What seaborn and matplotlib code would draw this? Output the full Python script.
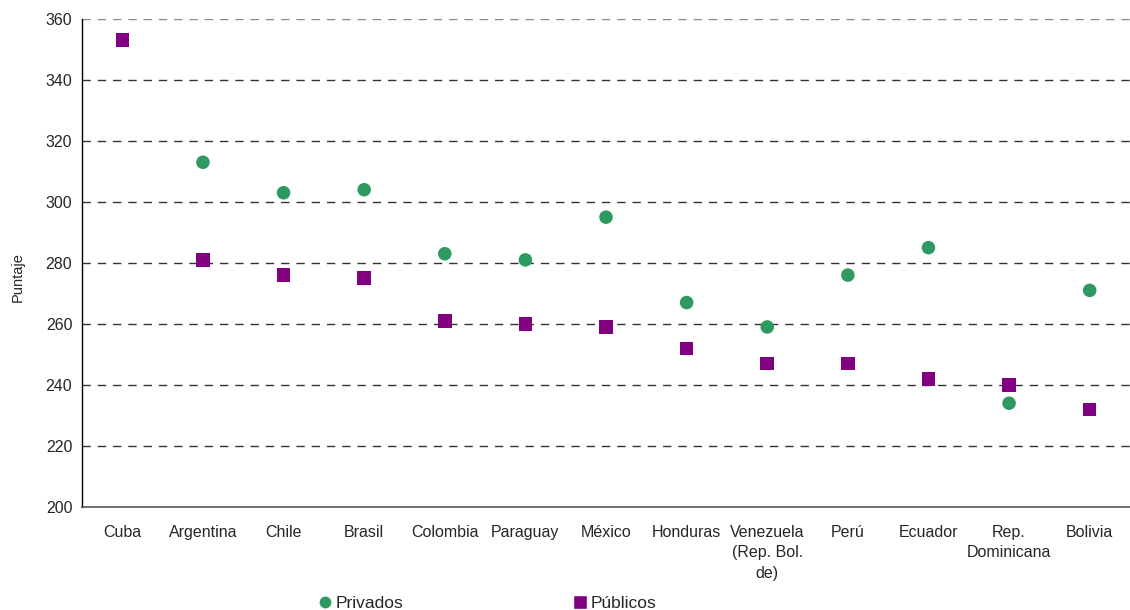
import matplotlib
matplotlib.use("Agg")
import matplotlib.pyplot as plt
import seaborn as sns
import pandas as pd
import numpy as np
from matplotlib.lines import Line2D

paises = ["Cuba", "Argentina", "Chile", "Brasil", "Colombia", "Paraguay", "México",
          "Honduras", "Venezuela\n(Rep. Bol.\nde)", "Perú", "Ecuador",
          "Rep.\nDominicana", "Bolivia"]
privados = [np.nan, 313, 303, 304, 283, 281, 295, 267, 259, 276, 285, 234, 271]
publicos = [353, 281, 276, 275, 261, 260, 259, 252, 247, 247, 242, 240, 232]
y_ticks = [200, 220, 240, 260, 280, 300, 320, 340, 360]

sns.set_style("white")
plt.rcParams['font.family'] = ['Liberation Sans', 'DejaVu Sans']

verde = "#2e9a62"
morado = "#800080"

df = pd.DataFrame({
    "pos": list(range(len(paises))) * 2,
    "Puntaje": privados + publicos,
    "Tipo": ["Privados"] * len(paises) + ["Públicos"] * len(paises),
}).dropna()

fig = plt.figure(figsize=(11.3, 6.1), dpi=100)
ax = fig.add_axes([0.0726, 0.169, 0.9274, 0.8])

sns.scatterplot(data=df, x="pos", y="Puntaje", hue="Tipo", style="Tipo",
                palette={"Privados": verde, "Públicos": morado},
                markers={"Privados": "o", "Públicos": "s"},
                s=95, linewidth=0, legend=False, ax=ax, zorder=3)

ax.set_xlim(-0.5, len(paises) - 0.5)
ax.set_ylim(200, 360)
ax.set_yticks(y_ticks)
ax.set_yticklabels([str(v) for v in y_ticks], fontsize=11.5)
ax.set_xticks(range(len(paises)))
ax.set_xticklabels(paises, fontsize=11.5, va="top", ha="center", linespacing=1.45)
ax.tick_params(axis="x", which="major", length=0, pad=13)
ax.set_xticks(np.arange(-0.5, len(paises), 1.0), minor=True)
ax.tick_params(axis="x", which="minor", length=5, width=1, color="#555555", direction="out")
ax.tick_params(axis="y", which="major", length=10, width=1, color="black", direction="inout", pad=2)

for v in y_ticks[1:]:
    ax.axhline(v, color="#333333" if v < 360 else "#888888", lw=1, ls=(0, (6, 5)), zorder=1)

ax.set_xlabel("")
ax.set_ylabel("Puntaje", fontsize=10.5, labelpad=12)
ax.yaxis.set_label_coords(-0.055, 0.47)

for s in ["top", "right"]:
    ax.spines[s].set_visible(False)
ax.spines["left"].set_color("black")
ax.spines["left"].set_linewidth(1)
ax.spines["bottom"].set_color("#555555")
ax.spines["bottom"].set_linewidth(1.2)

handles = [Line2D([0], [0], marker="o", color="w", markerfacecolor=verde, markersize=9.5, linewidth=0),
           Line2D([0], [0], marker="s", color="w", markerfacecolor=morado, markersize=9.5, linewidth=0)]
fig.legend(handles, ["Privados", "Públicos"], loc="lower left", bbox_to_anchor=(0.266, -0.028),
           ncol=2, frameon=False, fontsize=12.5, handletextpad=0.1, columnspacing=9.7,
           handlelength=1.0)

fig.savefig("out.png", dpi=100)
